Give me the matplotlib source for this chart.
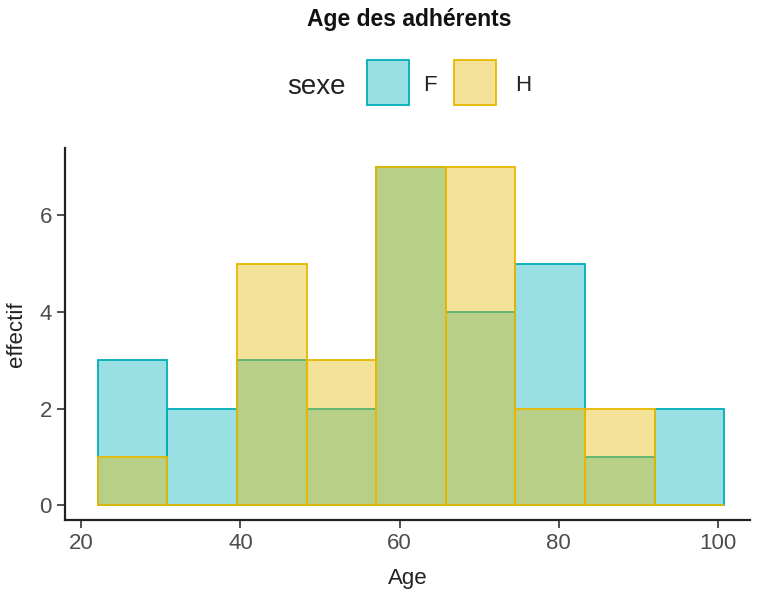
import matplotlib.pyplot as plt
from matplotlib.patches import Rectangle

plt.rcParams['font.family'] = ['Liberation Sans', 'DejaVu Sans']

# histogram bins (ages) and counts per sex
bin_edges = [22.05, 30.8, 39.55, 48.3, 57.05, 65.8, 74.55, 83.3, 92.05, 100.8]
counts_F = [3, 2, 3, 2, 7, 4, 5, 1, 2]
counts_H = [1, 0, 5, 3, 7, 7, 2, 2, 0]
groups = ['F', 'H']
colors = ['#00AFBB', '#E7B800']

fig = plt.figure(figsize=(7.65, 6), dpi=100)
ax = fig.add_axes([0.085, 0.133, 0.895, 0.62])

widths = [b - a for a, b in zip(bin_edges[:-1], bin_edges[1:])]
for counts, col in zip([counts_F, counts_H], colors):
    ax.bar(bin_edges[:-1], counts, width=widths, align='edge',
           facecolor=col, alpha=0.4, edgecolor='none', zorder=2)
    ax.bar(bin_edges[:-1], counts, width=widths, align='edge',
           facecolor='none', edgecolor=col, linewidth=1.3, zorder=2)

ax.set_xlim(17.95, 104.0)
ax.set_ylim(-0.31, 7.39)
ax.set_xticks([20, 40, 60, 80, 100])
ax.set_yticks([0, 2, 4, 6])
ax.spines['top'].set_visible(False)
ax.spines['right'].set_visible(False)
for s in ['left', 'bottom']:
    ax.spines[s].set_linewidth(1.6)
    ax.spines[s].set_color('#222222')
ax.tick_params(axis='both', length=6, width=1.2, color='#333333',
               labelsize=16, labelcolor='#4d4d4d', pad=3.5)
ax.set_xlabel('Age', fontsize=16, color='#222222')
ax.set_ylabel('effectif', fontsize=16, color='#222222')
ax.xaxis.set_label_coords(0.5, -0.156)
ax.xaxis.label.set_va('center')
ax.yaxis.set_label_coords(-0.0715, 0.5)
ax.yaxis.label.set_va('center')

fig.text(0.535, 0.968, 'Age des adhérents', ha='center', va='center',
         fontsize=16.5, fontweight='bold', color='#111111')

# legend drawn by hand, ggplot style
fig.text(0.414, 0.855, 'sexe', ha='center', va='center', fontsize=20, color='#222222')
box_x = [0.48, 0.594]
lab_x = [0.562, 0.684]
for g, col, bx, lx in zip(groups, colors, box_x, lab_x):
    fig.patches.append(Rectangle((bx, 0.825), 0.055, 0.075, transform=fig.transFigure,
                                 facecolor=col, alpha=0.4, edgecolor='none'))
    fig.patches.append(Rectangle((bx, 0.825), 0.055, 0.075, transform=fig.transFigure,
                                 facecolor='none', edgecolor=col, linewidth=1.3))
    fig.text(lx, 0.857, g, ha='center', va='center', fontsize=16, color='#222222')

fig.savefig('out.png', dpi=100)
